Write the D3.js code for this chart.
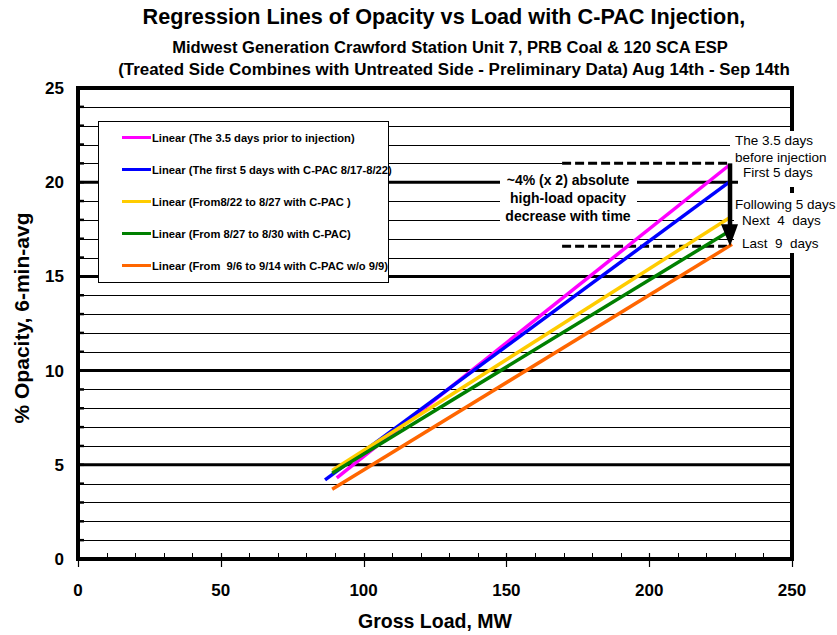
<!DOCTYPE html>
<html><head><meta charset="utf-8">
<script src="https://cdn.jsdelivr.net/npm/d3@7"></script>
<style>
body{margin:0;background:#fff;}
text{font-family:"Liberation Sans",Arial,sans-serif;fill:#000;}
</style>
</head><body>
<svg id="chart" width="837" height="635"></svg>
<script>
// ---------------- data ----------------
const seriesNames = [
  "Linear (The 3.5 days prior to injection)",
  "Linear (The first 5 days with C-PAC 8/17-8/22)",
  "Linear (From8/22 to 8/27 with C-PAC )",
  "Linear (From 8/27 to 8/30 with C-PAC)",
  "Linear (From  9/6 to 9/14 with C-PAC w/o 9/9)"
];
const seriesColors = ["#FF00FF", "#0000FF", "#FFCC00", "#008000", "#FF6600"];
const seriesLoadStart = [90.6, 86.5, 89.0, 89.0, 89.0];
const seriesLoadEnd   = [228.0, 228.0, 228.0, 228.0, 229.0];
const seriesOpacityStart = [4.3, 4.2, 4.7, 4.55, 3.7];
const seriesOpacityEnd   = [20.9, 20.0, 18.1, 17.4, 16.7];
const xTickValues = [0, 50, 100, 150, 200, 250];
const yTickValues = [0, 5, 10, 15, 20, 25];
const titleLines = [
  "Regression Lines of Opacity vs Load with C-PAC Injection,",
  "Midwest Generation Crawford Station Unit 7, PRB Coal & 120 SCA ESP",
  "(Treated Side Combines with Untreated Side - Preliminary Data) Aug 14th - Sep 14th"
];
const xAxisTitle = "Gross Load, MW";
const yAxisTitle = "% Opacity, 6-min-avg";
const centerNote = ["~4% (x 2) absolute", "high-load opacity", "decrease with time"];
const rightNotes = ["The 3.5 days", "before injection", "First 5 days", "Following 5 days", "Next  4  days", "Last  9  days"];
const decreaseTop = 21.0, decreaseBottom = 16.6, decreaseLoad = 228.3, dashStartLoad = 169.5;

// ---------------- layout ----------------
const svg = d3.select("#chart");
const L = 78, T = 88, R = 792, B = 559;
const x = d3.scaleLinear().domain([0, 250]).range([L, R]);
const y = d3.scaleLinear().domain([0, 25]).range([B, T]);

function fit(sel, w) {
  const n = sel.node();
  const fs = parseFloat(sel.attr("font-size"));
  const cur = n.getComputedTextLength();
  sel.attr("font-size", (fs * w / cur).toFixed(2));
}

// titles
const tt = svg.append("text").attr("x", 444).attr("y", 24).attr("text-anchor", "middle")
  .attr("font-weight", "bold").attr("font-size", 18).text(titleLines[0]);
fit(tt, 603);
const s1 = svg.append("text").attr("x", 450).attr("y", 53).attr("text-anchor", "middle")
  .attr("font-weight", "bold").attr("font-size", 13).text(titleLines[1]);
fit(s1, 556);
const s2 = svg.append("text").attr("x", 454).attr("y", 75).attr("text-anchor", "middle")
  .attr("font-weight", "bold").attr("font-size", 13).text(titleLines[2]);
fit(s2, 672);

// gridlines
const minorY = d3.range(1, 25).filter(v => v % 5 !== 0);
svg.append("g").selectAll("line").data(minorY).join("line")
  .attr("x1", L).attr("x2", R)
  .attr("y1", d => Math.round(y(d)) + 0.5).attr("y2", d => Math.round(y(d)) + 0.5)
  .attr("stroke", "#000").attr("stroke-width", 1);
svg.append("g").selectAll("line").data([5, 10, 15, 20]).join("line")
  .attr("x1", L).attr("x2", R)
  .attr("y1", d => y(d)).attr("y2", d => y(d))
  .attr("stroke", "#000").attr("stroke-width", 3);

// inner ticks on y axis
svg.append("g").selectAll("line").data(d3.range(1, 25)).join("line")
  .attr("x1", L).attr("x2", L + 6)
  .attr("y1", d => y(d)).attr("y2", d => y(d))
  .attr("stroke", "#000").attr("stroke-width", 2.5);

// x axis minor ticks
svg.append("g").selectAll("line").data(d3.range(10, 250, 10).filter(v => v % 50 !== 0)).join("line")
  .attr("x1", d => Math.round(x(d)) + 0.5).attr("x2", d => Math.round(x(d)) + 0.5)
  .attr("y1", B - 6).attr("y2", B)
  .attr("stroke", "#000").attr("stroke-width", 1);
svg.append("g").selectAll("line").data(xTickValues).join("line")
  .attr("x1", d => Math.round(x(d)) + 0.5).attr("x2", d => Math.round(x(d)) + 0.5)
  .attr("y1", B - 6).attr("y2", B + 8)
  .attr("stroke", "#000").attr("stroke-width", 1.2);

// border
svg.append("rect").attr("x", L).attr("y", T).attr("width", R - L).attr("height", B - T)
  .attr("fill", "none").attr("stroke", "#000").attr("stroke-width", 4);

// tick labels
svg.append("g").selectAll("text").data(yTickValues).join("text")
  .attr("x", 64).attr("y", d => y(d) + 6).attr("text-anchor", "end")
  .attr("font-weight", "bold").attr("font-size", 17).text(d => d);
svg.append("g").selectAll("text").data(xTickValues).join("text")
  .attr("x", d => x(d)).attr("y", 596).attr("text-anchor", "middle")
  .attr("font-weight", "bold").attr("font-size", 17).text(d => d);

// axis titles
const xt = svg.append("text").attr("x", 435).attr("y", 628).attr("text-anchor", "middle")
  .attr("font-weight", "bold").attr("font-size", 17).text(xAxisTitle);
fit(xt, 154);
const yt = svg.append("text").attr("transform", "translate(29,318) rotate(-90)").attr("text-anchor", "middle")
  .attr("font-weight", "bold").attr("font-size", 17).text(yAxisTitle);
fit(yt, 211);

// legend
svg.append("rect").attr("x", 98.5).attr("y", 121.5).attr("width", 290).attr("height", 161)
  .attr("fill", "#fff").attr("stroke", "#000").attr("stroke-width", 1);
const lg = svg.append("g").selectAll("g").data(seriesNames).join("g")
  .attr("transform", (d, i) => `translate(0,${137.5 + i * 32})`);
lg.append("line").attr("x1", 122).attr("x2", 151).attr("y1", 0).attr("y2", 0)
  .attr("stroke", (d, i) => seriesColors[i]).attr("stroke-width", 3);
lg.append("text").attr("x", 152).attr("y", 4).attr("font-weight", "bold").attr("font-size", 11.2)
  .style("white-space", "pre").text(d => d);

// white boxes behind annotation texts
const boxes = [[500, 168, 137, 62], [730, 131, 107, 35], [738, 166, 99, 21], [730, 193, 107, 20], [734, 213, 103, 40]];
svg.append("g").selectAll("rect").data(boxes).join("rect")
  .attr("x", d => d[0]).attr("y", d => d[1]).attr("width", d => d[2]).attr("height", d => d[3])
  .attr("fill", "#fff");

// center note
svg.append("g").selectAll("text").data(centerNote).join("text")
  .attr("x", 568).attr("y", (d, i) => 185 + i * 18).attr("text-anchor", "middle")
  .attr("font-weight", "bold").attr("font-size", 14).text(d => d);

// right notes (each drawn above the previous one's box so lower boxes clip descenders)
const rnPos = [[735, 145], [735, 162], [743, 177], [735, 209], [742, 225], [742, 248]];
const rnBox = [null, null, [738, 166, 99, 4], null, [734, 213, 103, 3], null];
rightNotes.forEach((t, i) => {
  if (rnBox[i]) svg.append("rect").attr("x", rnBox[i][0]).attr("y", rnBox[i][1])
    .attr("width", rnBox[i][2]).attr("height", rnBox[i][3]).attr("fill", "#fff");
  svg.append("text").attr("x", rnPos[i][0]).attr("y", rnPos[i][1])
    .attr("font-size", 13.5).style("white-space", "pre").text(t);
});

// dashed lines
[decreaseTop, decreaseBottom].forEach(v => {
  svg.append("line").attr("x1", x(dashStartLoad)).attr("x2", x(decreaseLoad))
    .attr("y1", y(v)).attr("y2", y(v)).attr("stroke", "#fff").attr("stroke-width", 3);
  svg.append("line").attr("x1", x(dashStartLoad)).attr("x2", x(decreaseLoad))
    .attr("y1", y(v)).attr("y2", y(v)).attr("stroke", "#000").attr("stroke-width", 3)
    .attr("stroke-dasharray", "9,4");
});

// series lines
const line = d3.line().x(d => x(d[0])).y(d => y(d[1]));
svg.append("g").selectAll("path").data(seriesNames).join("path")
  .attr("d", (d, i) => line([[seriesLoadStart[i], seriesOpacityStart[i]], [seriesLoadEnd[i], seriesOpacityEnd[i]]]))
  .attr("fill", "none").attr("stroke", (d, i) => seriesColors[i]).attr("stroke-width", 3.5);

// arrow
const ax = x(decreaseLoad);
svg.append("line").attr("x1", ax).attr("x2", ax).attr("y1", y(decreaseTop)).attr("y2", y(decreaseBottom) - 18)
  .attr("stroke", "#000").attr("stroke-width", 4.5);
svg.append("path")
  .attr("d", `M${ax - 9},${y(decreaseBottom) - 22} L${ax + 8},${y(decreaseBottom) - 22} L${ax},${y(decreaseBottom)} Z`)
  .attr("fill", "#000");
</script>
</body></html>
